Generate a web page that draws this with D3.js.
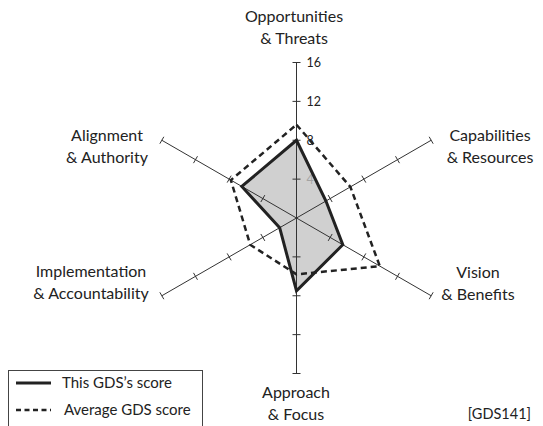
<!DOCTYPE html>
<html><head><meta charset="utf-8">
<script src="https://cdn.jsdelivr.net/npm/d3@7"></script>
<style>body{margin:0;background:#fff}svg{display:block}text{font-family:Lato,"Open Sans",sans-serif;fill:#222}</style>
</head><body><svg id="c" width="543" height="426"></svg>
<script>
const axesNames = [["Opportunities","& Threats"],["Capabilities","& Resources"],["Vision","& Benefits"],["Approach","& Focus"],["Implementation","& Accountability"],["Alignment","& Authority"]];
const thisScore = [8, 3.5, 5.5, 7.5, 2, 6.5];
const avgScore = [9.6, 6.4, 9.9, 5.8, 5.5, 7.8];
const tickValues = [4, 8, 12, 16];
const seriesNames = ["This GDS\u2019s score", "Average GDS score"];
const sourceNote = "[GDS141]";

const svg = d3.select("#c");
const cx = 296.5, cy = 218;
const r = d3.scaleLinear().domain([0, 16]).range([0, 155.5]);
const angle = d3.scaleLinear().domain([0, axesNames.length]).range([0, 2*Math.PI]);
const pt = (i, v) => [cx + r(v)*Math.sin(angle(i)), cy - r(v)*Math.cos(angle(i))];

// tick labels (under fill)
svg.selectAll("text.tl").data(tickValues).join("text").attr("class","tl")
  .attr("x", cx + 10).attr("y", d => cy - r(d) + 4.5)
  .style("font-size","12.5px").text(d => d);

const line = d3.line();
const poly = vals => line(vals.map((v,i)=>pt(i,v))) + "Z";

// fill
svg.append("path").attr("d", poly(thisScore)).attr("fill","#c4c4c4").attr("fill-opacity",0.8);

// axes
axesNames.forEach((n,i) => {
  const e = pt(i,16);
  svg.append("line").attr("x1",cx).attr("y1",cy).attr("x2",e[0]).attr("y2",e[1]).attr("stroke","#333").attr("stroke-width",1);
  const a = angle(i);
  const px = Math.cos(a)*4, py = Math.sin(a)*4;
  tickValues.forEach(t => {
    const p = pt(i,t);
    svg.append("line").attr("x1",p[0]-px).attr("y1",p[1]-py).attr("x2",p[0]+px).attr("y2",p[1]+py).attr("stroke","#333").attr("stroke-width",1);
  });
});

// series
svg.append("path").attr("d", poly(avgScore)).attr("fill","none").attr("stroke","#222").attr("stroke-width",2.5).attr("stroke-dasharray","6,4");
svg.append("path").attr("d", poly(thisScore)).attr("fill","none").attr("stroke","#222").attr("stroke-width",3).attr("stroke-linejoin","miter");

// axis labels
const labelPos = [[294,22],[490,141],[478,278],[296,398],[91,277],[107,141]];
axesNames.forEach((n,i) => {
  const t = svg.append("text").attr("text-anchor","middle").style("font-size","16px");
  n.forEach((s,k) => t.append("tspan").attr("x",labelPos[i][0]).attr("y",labelPos[i][1]+k*21.5).text(s));
});

svg.append("text").attr("x",531).attr("y",419).attr("text-anchor","end").style("font-size","14.5px").text(sourceNote);

// legend
const lg = svg.append("g");
lg.append("rect").attr("x",8.5).attr("y",370.5).attr("width",194).attr("height",70).attr("fill","#fff").attr("stroke","#444");
const ly = [383, 410];
seriesNames.forEach((s,k) => {
  lg.append("line").attr("x1",16).attr("x2",51).attr("y1",ly[k]).attr("y2",ly[k]).attr("stroke","#222")
    .attr("stroke-width", k ? 2.5 : 3).attr("stroke-dasharray", k ? "5,3.5" : null);
  lg.append("text").attr("x", k ? 64 : 62).attr("y", ly[k]+5).style("font-size","15px").text(s);
});
</script></body></html>
